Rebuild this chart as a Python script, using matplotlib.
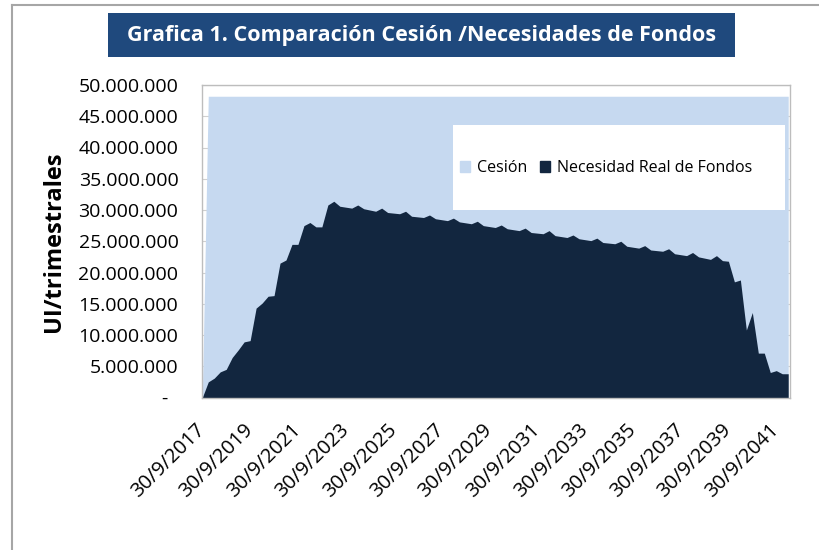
import matplotlib.pyplot as plt
import matplotlib.patches as patches
from matplotlib.lines import Line2D
import numpy as np

plt.rcParams['font.family'] = ['Open Sans', 'DejaVu Sans']

# Valores trimestrales en millones de UI (desde 30/9/2017)
necesidad = [
    0.0, 2.5, 3.1, 4.1, 4.5, 6.4, 7.6, 8.9, 9.1, 14.3,
    15.1, 16.2, 16.3, 21.5, 22.0, 24.5, 24.5, 27.5, 28.0, 27.3,
    27.3, 30.8, 31.4, 30.6, 30.45, 30.3, 30.8, 30.2, 30.0, 29.8,
    30.3, 29.6, 29.5, 29.4, 29.8, 29.0, 28.9, 28.8, 29.2, 28.6,
    28.45, 28.3, 28.7, 28.1, 27.95, 27.8, 28.2, 27.5, 27.35, 27.2,
    27.6, 27.0, 26.85, 26.7, 27.1, 26.4, 26.3, 26.2, 26.7, 25.9,
    25.75, 25.6, 26.0, 25.4, 25.25, 25.1, 25.5, 24.8, 24.7, 24.6,
    25.0, 24.2, 24.05, 23.9, 24.3, 23.6, 23.5, 23.4, 23.8, 23.0,
    22.85, 22.7, 23.2, 22.5, 22.3, 22.1, 22.7, 21.9, 21.8, 18.5,
    18.8, 10.8, 13.6, 7.1, 7.1, 4.0, 4.3, 3.8, 3.8,
]
cesion = [
    0.0, 48.2, 48.2, 48.2, 48.2, 48.2, 48.2, 48.2, 48.2, 48.2,
    48.2, 48.2, 48.2, 48.2, 48.2, 48.2, 48.2, 48.2, 48.2, 48.2,
    48.2, 48.2, 48.2, 48.2, 48.2, 48.2, 48.2, 48.2, 48.2, 48.2,
    48.2, 48.2, 48.2, 48.2, 48.2, 48.2, 48.2, 48.2, 48.2, 48.2,
    48.2, 48.2, 48.2, 48.2, 48.2, 48.2, 48.2, 48.2, 48.2, 48.2,
    48.2, 48.2, 48.2, 48.2, 48.2, 48.2, 48.2, 48.2, 48.2, 48.2,
    48.2, 48.2, 48.2, 48.2, 48.2, 48.2, 48.2, 48.2, 48.2, 48.2,
    48.2, 48.2, 48.2, 48.2, 48.2, 48.2, 48.2, 48.2, 48.2, 48.2,
    48.2, 48.2, 48.2, 48.2, 48.2, 48.2, 48.2, 48.2, 48.2, 48.2,
    48.2, 48.2, 48.2, 48.2, 48.2, 48.2, 48.2, 48.2, 48.2,
]
etiquetas = ['30/9/2017', '30/9/2019', '30/9/2021', '30/9/2023', '30/9/2025',
             '30/9/2027', '30/9/2029', '30/9/2031', '30/9/2033', '30/9/2035',
             '30/9/2037', '30/9/2039', '30/9/2041']
y_ticks = [0, 5, 10, 15, 20, 25, 30, 35, 40, 45, 50]

claro = '#c6d9f0'
oscuro = '#12263f'

fig = plt.figure(figsize=(8.2, 5.5), dpi=100)
ax = fig.add_axes([202 / 820, 1 - 397.5 / 550, 588 / 820, 312.5 / 550])

x = np.arange(len(necesidad))
ax.fill_between(x, cesion, color=claro, lw=0, zorder=1, label='Cesión')
ax.fill_between(x, necesidad, color=oscuro, lw=0, zorder=2, label='Necesidad Real de Fondos')

ax.set_xlim(-0.05, len(necesidad) - 1 + 0.3)
ax.set_ylim(0, 50)
ax.yaxis.grid(True, color='#d0d0d0', lw=0.8)
ax.set_axisbelow(True)

ax.set_yticks(y_ticks)
ax.set_yticklabels(['-  ' if v == 0 else f'{v * 1000000:,}'.replace(',', '.') for v in y_ticks],
                   fontsize=14)
ax.set_xticks(x[::8][:len(etiquetas)])
ax.set_xticklabels(etiquetas, rotation=45, ha='right', va='center',
                   rotation_mode='anchor', fontsize=14.5)
ax.tick_params(axis='y', length=0, pad=17)
ax.tick_params(axis='x', length=0, pad=21)
for s in ax.spines.values():
    s.set_color('#bdbdbd')
    s.set_linewidth(1)

ax.set_ylabel('UI/trimestrales', fontsize=17, fontweight='bold')
ax.yaxis.set_label_coords(-0.232, 0.5)

# caja blanca de la leyenda
ax.add_patch(patches.Rectangle((0.427, 0.6), 0.564, 0.272, transform=ax.transAxes,
                               facecolor='white', edgecolor='none', zorder=3))
h = [patches.Patch(color=claro), patches.Patch(color=oscuro)]
leg = ax.legend(h, ['Cesión', 'Necesidad Real de Fondos'], ncol=2, loc='center',
                bbox_to_anchor=(0.687, 0.734), frameon=False, fontsize=11.5,
                handlelength=0.65, handleheight=0.65, handletextpad=0.4,
                columnspacing=0.8)
leg.set_zorder(4)

# titulo en caja azul
fig.patches.append(patches.Rectangle((108 / 820, 1 - 57 / 550), 627 / 820, 44 / 550,
                                     transform=fig.transFigure, facecolor='#1f497d',
                                     edgecolor='none'))
fig.text(421.5 / 820, 1 - 35 / 550, 'Grafica 1. Comparación Cesión /Necesidades de Fondos',
         ha='center', va='center', color='white', fontsize=15.5, fontweight='bold')

# borde exterior del grafico
fig.lines.append(Line2D([12 / 820, 12 / 820], [0, 1 - 5 / 550], transform=fig.transFigure,
                        color='#a6a6a6', lw=1.5))
fig.lines.append(Line2D([12 / 820, 1], [1 - 5 / 550, 1 - 5 / 550], transform=fig.transFigure,
                        color='#a6a6a6', lw=1.5))

plt.savefig('out.png', dpi=100)
